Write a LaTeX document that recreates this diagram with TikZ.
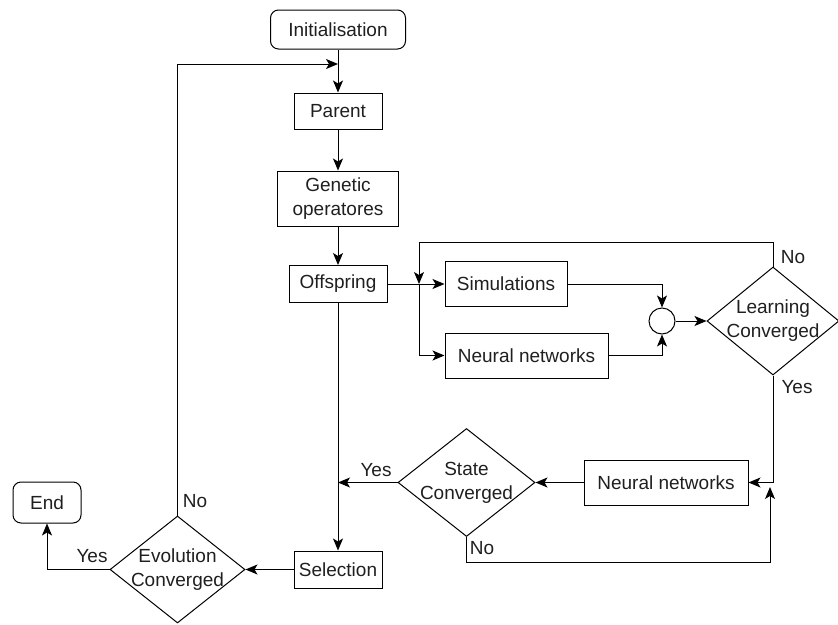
\documentclass[tikz,border=0pt]{standalone}
\usepackage{fontspec}
\setmainfont{Liberation Sans}
\usetikzlibrary{shapes.geometric,arrows.meta}
\begin{document}
\begin{tikzpicture}[x=1pt,y=-1pt,
  every node/.style={font=\fontsize{19}{24}\selectfont, text=black!88},
  box/.style={draw, line width=1pt, inner sep=0pt, align=center},
  rbox/.style={box, rounded corners=8pt},
  decision/.style={draw, line width=1pt, diamond, inner sep=0pt},
  arr/.style={draw, line width=1pt, -{Stealth[length=12pt,width=10pt,inset=3pt]}},
  lbl/.style={inner sep=0pt}]
\useasboundingbox (0,0) rectangle (838,624);

% main column
\node[rbox, minimum width=135pt, minimum height=39pt] (init) at (338,29.5) {Initialisation};
\node[box, minimum width=88pt, minimum height=36pt] (parent) at (338,111) {Parent};
\node[box, minimum width=121pt, minimum height=55pt] (gen) at (338,198.5) {Genetic\\operatores};
\node[box, minimum width=98pt, minimum height=37pt] (off) at (338,284) {Offspring};
\node[box, minimum width=88pt, minimum height=37pt] (sel) at (338,569.5) {Selection};

% learning loop
\node[box, minimum width=122pt, minimum height=45pt] (sim) at (506,284) {Simulations};
\node[box, minimum width=163pt, minimum height=45pt] (nn1) at (526.5,355.5) {Neural networks};
\node[draw, line width=1pt, circle, inner sep=0pt, minimum size=26pt] (sum) at (662,321) {};
\node[decision, minimum width=132pt, minimum height=108pt,
  label={[align=center]center:Learning\\Converged}] (lc) at (773,321) {};

% state loop
\node[box, minimum width=164pt, minimum height=45pt] (nn2) at (666,482.5) {Neural networks};
\node[decision, minimum width=137pt, minimum height=108pt,
  label={[align=center]center:State\\Converged}] (sd) at (466.5,482.5) {};

% evolution decision
\node[decision, minimum width=135pt, minimum height=107pt,
  label={[align=center]center:Evolution\\Converged}] (ed) at (177.5,569.5) {};
\node[rbox, minimum width=68pt, minimum height=41pt] (end) at (47,502.5) {End};

% junction points
\coordinate (br) at (419,284);
\coordinate (lcup) at (773,242);
\coordinate (sy) at (338,482.5);
\coordinate (nb) at (770,562);
\coordinate (ntip) at (770,487);
\coordinate (itop) at (338,64);

% main flow
\draw[arr] (init) -- (parent);
\draw[arr] (parent) -- (gen);
\draw[arr] (gen) -- (off);
\draw[arr] (off) -- (sel);
\draw[arr] (off.east) -- (sim.west);
\draw[arr] (br) |- (nn1.west);
\draw[arr] (lc.north) -- (lcup) -| (br);
\draw[arr] (sim.east) -| (sum.north);
\draw[arr] (nn1.east) -| (sum.south);
\draw[arr] (sum) -- (lc.west);
\draw[arr] (lc.south) |- (nn2.east);
\draw[arr] (nn2) -- (sd);
\draw[arr] (sd.west) -- (sy);
\draw[arr] (sd.south) |- (nb) -- (ntip);
\draw[arr] (sel) -- (ed);
\draw[arr] (ed.west) -| (end.south);
\draw[arr] (ed.north) |- (itop);

% branch labels
\node[lbl] (lno) at (793,257) {No};
\node[lbl] (lyes) at (797,387) {Yes};
\node[lbl] (syes) at (376,470) {Yes};
\node[lbl] (sno) at (482,548) {No};
\node[lbl] (eyes) at (92,556) {Yes};
\node[lbl] (eno) at (195,501) {No};
\end{tikzpicture}
\end{document}
